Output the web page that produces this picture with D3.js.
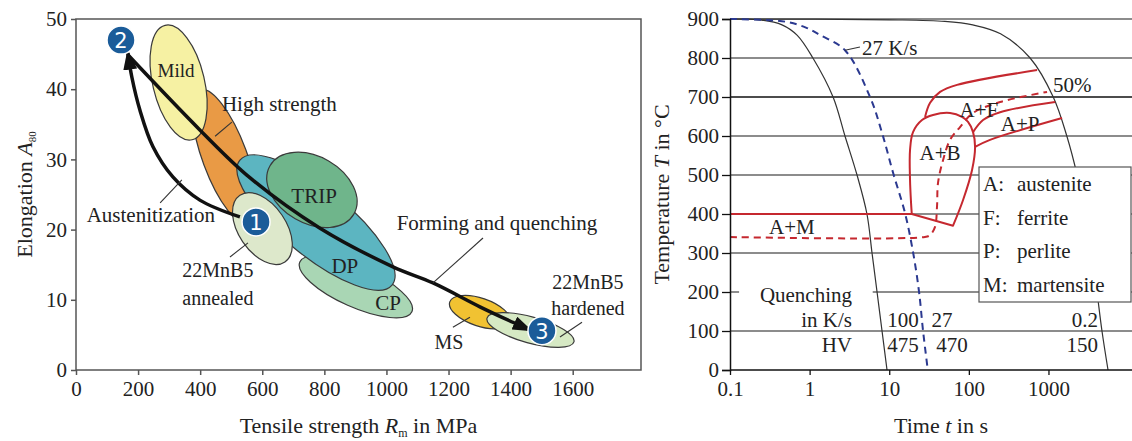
<!DOCTYPE html>
<html>
<head>
<meta charset="utf-8">
<script src="https://cdn.jsdelivr.net/npm/d3@7"></script>
<style>
body { margin: 0; background: #fff; }
svg { font-family: "Liberation Serif", "Times New Roman", serif; }
</style>
</head>
<body>
<svg id="chart" width="1132" height="441"></svg>
<script>
// ---------- left panel: elongation vs tensile strength ----------
var strengthTicks = [0, 200, 400, 600, 800, 1000, 1200, 1400, 1600];
var elongTicks = [0, 10, 20, 30, 40, 50];

// steel grade regions: major axis end points [MPa, %] and minor/major ratio
var regionNames = ["High strength", "Mild", "CP", "DP", "TRIP", "22MnB5 annealed", "MS", "22MnB5 hardened"];
var regionStart = [[399, 39.9], [287, 49.1], [721, 15.4], [528, 29.9], [625, 29.1], [528, 24.9], [1204, 9.7], [1324, 7.4]];
var regionEnd = [[560, 20.7], [374, 32.8], [1082, 8.3], [1018, 12.1], [895, 22.2], [673, 15.4], [1398, 6.8], [1604, 4.0]];
var regionRatio = [0.31, 0.44, 0.33, 0.34, 0.69, 0.59, 0.44, 0.29];
var regionColors = ["#e99a45", "#f6f1a3", "#a9d6b4", "#5cb5c1", "#6fb58b", "#dde8cb", "#f1c232", "#d6e9c4"];

// process route points
var stepNames = ["1", "2", "3"];
var stepPoints = [[580, 21.1], [145, 47.0], [1501, 5.6]];
var austenitization = [[528, 21.8], [399, 24.2], [312, 27.5], [248, 31.8], [206, 37.0], [180, 41.7], [167, 45.2]];
var forming = [[167, 44.9], [399, 34.2], [560, 27.4], [786, 20.2], [1021, 14.7], [1150, 12.4], [1301, 9.0], [1407, 6.8], [1462, 5.7]];

// ---------- right panel: CCT diagram ----------
var timeTicks = [0.1, 1, 10, 100, 1000];
var tempTicks = [0, 100, 200, 300, 400, 500, 600, 700, 800, 900];
var cool100 = [[0.1, 900], [0.25, 897], [0.45, 885], [0.7, 858], [1.1, 800], [1.97, 700], [2.78, 600], [3.94, 500], [5.25, 400], [6.08, 300], [7.03, 200], [8.12, 100], [9.38, 0]];
var cool27 = [[0.1, 900], [0.5, 893], [0.9, 878], [1.35, 859], [2.78, 820], [5.74, 700], [8.12, 608], [11.2, 505], [15.8, 402], [20.0, 300], [23.7, 200], [26.6, 100], [30.5, 0]];
var cool02 = [[0.1, 900], [10, 898], [50, 894], [112, 885], [250, 862], [588, 800], [1148, 700], [1700, 600], [2290, 500], [2880, 400], [3500, 300], [4070, 200], [4700, 100], [5600, 0]];
var msLine = [[0.1, 400], [19.2, 400]];
var bainite = [[63.3, 370], [84.6, 436], [109.7, 513], [119.7, 572], [112.9, 610], [97.7, 636], [82.1, 649], [58.1, 659], [35.5, 654], [25.8, 641], [19.9, 610], [18.25, 564], [18.25, 487], [18.8, 428], [19.2, 400]];
var ferriteStart = [[28.2, 649], [32.6, 685], [43.5, 713], [71.1, 731], [719, 769]];
var perliteStart = [[112.9, 610], [150.8, 641], [246.6, 661], [1211, 687]];
var perliteEnd = [[119.7, 572], [184.5, 590], [1483, 646]];
var half = [[0.1, 341], [28, 341], [32.6, 346], [37.6, 367], [39.8, 418], [41, 480], [47.4, 538], [58.1, 590], [77.5, 623], [112.9, 659], [246.6, 687], [960, 713]];
var rateLabels = ["100", "27", "0.2"];
var hvLabels = ["475", "470", "150"];
var legendKeys = ["A:", "F:", "P:", "M:"];
var legendNames = ["austenite", "ferrite", "perlite", "martensite"];

var svg = d3.select("#chart");
var ink = "#222";

// ================= left panel =================
var xL = d3.scaleLinear().domain([0, 1820]).range([76, 641]);
var yL = d3.scaleLinear().domain([0, 50]).range([370, 19]);

svg.append("rect")
	.attr("x", xL(0)).attr("y", yL(50))
	.attr("width", xL(1820) - xL(0)).attr("height", yL(0) - yL(50))
	.attr("fill", "none").attr("stroke", "#555").attr("stroke-width", 1.5);

var gxL = svg.append("g")
	.attr("transform", "translate(0," + yL(0) + ")")
	.call(d3.axisBottom(xL).tickValues(strengthTicks).tickSize(5).tickPadding(6).tickFormat(d3.format("d")));
var gyL = svg.append("g")
	.attr("transform", "translate(" + xL(0) + ",0)")
	.call(d3.axisLeft(yL).tickValues(elongTicks).tickSize(5).tickPadding(4));
[gxL, gyL].forEach(function(g) {
	g.select(".domain").remove();
	g.selectAll("line").attr("stroke", "#555").attr("stroke-width", 1.5);
	g.selectAll("text").attr("font-family", "Liberation Serif").attr("font-size", 21).attr("fill", ink);
});

// regions
regionNames.forEach(function(name, i) {
	var x1 = xL(regionStart[i][0]), y1 = yL(regionStart[i][1]);
	var x2 = xL(regionEnd[i][0]), y2 = yL(regionEnd[i][1]);
	var rx = Math.hypot(x2 - x1, y2 - y1) / 2;
	var ang = Math.atan2(y2 - y1, x2 - x1) * 180 / Math.PI;
	svg.append("ellipse")
		.attr("transform", "translate(" + (x1 + x2) / 2 + "," + (y1 + y2) / 2 + ") rotate(" + ang + ")")
		.attr("rx", rx).attr("ry", rx * regionRatio[i])
		.attr("fill", regionColors[i]).attr("stroke", "#3a3a3a").attr("stroke-width", 1.2);
});

// arrow heads
var defs = svg.append("defs");
defs.append("marker")
	.attr("id", "head")
	.attr("viewBox", "0 0 20 14")
	.attr("refX", 17).attr("refY", 7)
	.attr("markerWidth", 20).attr("markerHeight", 14)
	.attr("markerUnits", "userSpaceOnUse")
	.attr("orient", "auto")
	.append("path").attr("d", "M0,0 L20,7 L0,14 Z").attr("fill", "#111");

var routeLine = d3.line()
	.x(function(d) { return xL(d[0]); })
	.y(function(d) { return yL(d[1]); })
	.curve(d3.curveCatmullRom);

[austenitization, forming].forEach(function(pts) {
	svg.append("path")
		.attr("d", routeLine(pts))
		.attr("fill", "none").attr("stroke", "#111").attr("stroke-width", 3.5)
		.attr("marker-end", "url(#head)");
});

// leader lines (data coordinates)
var leftLeaders = [
	[[502, 35.3], [448, 33.3]],
	[[271, 23.8], [341, 27.1]],
	[[496, 16.1], [554, 18.1]],
	[[1311, 18.8], [1150, 12.4]],
	[[1214, 6.1], [1269, 7.5]],
	[[1630, 6.8], [1559, 4.7]]
];
leftLeaders.forEach(function(l) {
	svg.append("line")
		.attr("x1", xL(l[0][0])).attr("y1", yL(l[0][1]))
		.attr("x2", xL(l[1][0])).attr("y2", yL(l[1][1]))
		.attr("stroke", "#333").attr("stroke-width", 1.1);
});

// labels
var leftLabels = [
	["Mild", 322, 42.7, "middle", 19],
	["High strength", 470, 37.9, "start", 21],
	["Austenitization", 241, 22.1, "middle", 21],
	["TRIP", 767, 24.8, "middle", 21],
	["DP", 866, 14.8, "middle", 21],
	["CP", 1005, 9.5, "middle", 21],
	["MS", 1201, 4.0, "middle", 20],
	["22MnB5", 457, 14.2, "middle", 20],
	["annealed", 457, 10.3, "middle", 20],
	["Forming and quenching", 1356, 20.9, "middle", 21],
	["22MnB5", 1649, 12.5, "middle", 20],
	["hardened", 1649, 8.8, "middle", 20]
];
leftLabels.forEach(function(l) {
	svg.append("text")
		.attr("x", xL(l[1])).attr("y", yL(l[2]))
		.attr("text-anchor", l[3]).attr("dominant-baseline", "central")
		.attr("font-size", l[4]).attr("fill", ink)
		.text(l[0]);
});

// numbered steps
stepNames.forEach(function(n, i) {
	var cx = xL(stepPoints[i][0]), cy = yL(stepPoints[i][1]);
	svg.append("circle").attr("cx", cx).attr("cy", cy).attr("r", 14)
		.attr("fill", "#1b5c99").attr("stroke", "#fff").attr("stroke-width", 1.5);
	svg.append("text").attr("x", cx).attr("y", cy + 1)
		.attr("text-anchor", "middle").attr("dominant-baseline", "central")
		.attr("font-family", "DejaVu Sans").attr("font-size", 21).attr("fill", "#fff")
		.text(n);
});

// axis titles
var tx = svg.append("text")
	.attr("x", (xL(0) + xL(1820)) / 2).attr("y", 433)
	.attr("text-anchor", "middle").attr("font-size", 22).attr("fill", ink);
tx.append("tspan").text("Tensile strength ");
tx.append("tspan").attr("font-style", "italic").text("R");
tx.append("tspan").attr("font-size", 12).attr("dy", 4).text("m");
tx.append("tspan").attr("dy", -4).text(" in MPa");

var ty = svg.append("text")
	.attr("transform", "translate(32," + (yL(0) + yL(50)) / 2 + ") rotate(-90)")
	.attr("text-anchor", "middle").attr("font-size", 22).attr("fill", ink);
ty.append("tspan").text("Elongation ");
ty.append("tspan").attr("font-style", "italic").text("A");
ty.append("tspan").attr("font-size", 11).attr("dy", 4).text("80");

// ================= right panel =================
var xR = d3.scaleLog().domain([0.1, 11200]).range([730, 1132]);
var yR = d3.scaleLinear().domain([0, 900]).range([370, 19]);

// grid
svg.append("g").selectAll("line")
	.data(tempTicks.slice(1))
	.join("line")
	.attr("x1", xR(0.1)).attr("x2", xR.range()[1])
	.attr("y1", function(d) { return yR(d); }).attr("y2", function(d) { return yR(d); })
	.attr("stroke", function(d) { return d === 700 ? "#111" : "#666"; })
	.attr("stroke-width", 1.3);

// gap in the grid behind the "Quenching" label
svg.append("rect")
	.attr("x", xR(0.13)).attr("y", yR(200) - 8)
	.attr("width", xR(6.2) - xR(0.13)).attr("height", 16)
	.attr("fill", "#fff");

var cct = d3.line()
	.x(function(d) { return xR(d[0]); })
	.y(function(d) { return yR(d[1]); })
	.curve(d3.curveCatmullRom);

[cool100, cool02].forEach(function(c) {
	svg.append("path").attr("d", cct(c))
		.attr("fill", "none").attr("stroke", "#333").attr("stroke-width", 1.2);
});
svg.append("path").attr("d", cct(cool27))
	.attr("fill", "none").attr("stroke", "#2b3990").attr("stroke-width", 2)
	.attr("stroke-dasharray", "7,5");

var red = "#c5282f";
svg.append("path").attr("d", cct(msLine))
	.attr("fill", "none").attr("stroke", red).attr("stroke-width", 2);
svg.append("path").attr("d", cct(bainite) + "Z")
	.attr("fill", "none").attr("stroke", red).attr("stroke-width", 2).attr("stroke-linejoin", "round");
[ferriteStart, perliteStart, perliteEnd].forEach(function(c) {
	svg.append("path").attr("d", cct(c))
		.attr("fill", "none").attr("stroke", red).attr("stroke-width", 2);
});
svg.append("path").attr("d", cct(half))
	.attr("fill", "none").attr("stroke", red).attr("stroke-width", 2)
	.attr("stroke-dasharray", "7,5");

// axes
var gxR = svg.append("g")
	.attr("transform", "translate(0," + yR(0) + ")")
	.call(d3.axisBottom(xR).tickValues(timeTicks).tickSize(5).tickPadding(6)
		.tickFormat(function(d) { return d < 1 ? "0.1" : d3.format("d")(d); }));
var gyR = svg.append("g")
	.attr("transform", "translate(" + xR(0.1) + ",0)")
	.call(d3.axisLeft(yR).tickValues(tempTicks).tickSize(8).tickPadding(3));
[gxR, gyR].forEach(function(g) {
	g.select(".domain").attr("stroke", "#111").attr("stroke-width", 1.5);
	g.selectAll("line").attr("stroke", "#111").attr("stroke-width", 1.3);
	g.selectAll("text").attr("font-family", "Liberation Serif").attr("font-size", 21).attr("fill", ink);
});
gxR.select(".domain").attr("d", "M730,0H1132");

// legend
var lg = svg.append("g");
lg.append("rect").attr("x", 979).attr("y", 167).attr("width", 152).attr("height", 135)
	.attr("fill", "#fff").attr("stroke", "#555").attr("stroke-width", 1.2);
legendKeys.forEach(function(k, i) {
	var y = 184 + i * 33.5;
	lg.append("text").attr("x", 983).attr("y", y).attr("dominant-baseline", "central")
		.attr("font-size", 21).attr("fill", ink).text(k);
	lg.append("text").attr("x", 1017).attr("y", y).attr("dominant-baseline", "central")
		.attr("font-size", 21).attr("fill", ink).text(legendNames[i]);
});

// labels in data coordinates [text, t, T, anchor]
var rightLabels = [
	["27 K/s", 4.55, 826, "start"],
	["50%", 1143, 731, "start"],
	["A+F", 134, 667, "middle"],
	["A+P", 440, 631, "middle"],
	["A+B", 43.5, 556, "middle"],
	["A+M", 0.6, 367, "middle"],
	["Quenching", 3.41, 192, "end"],
	["in K/s", 3.41, 128, "end"],
	["HV", 3.41, 64, "end"]
];
rightLabels.forEach(function(l) {
	svg.append("text")
		.attr("x", xR(l[1])).attr("y", yR(l[2]))
		.attr("text-anchor", l[3]).attr("dominant-baseline", "central")
		.attr("font-size", 21).attr("fill", ink)
		.text(l[0]);
});
svg.append("line")
	.attr("x1", xR(2.78)).attr("y1", yR(820))
	.attr("x2", xR(4.29)).attr("y2", yR(828))
	.attr("stroke", "#333").attr("stroke-width", 1.1);

// quenching rates and hardness
var colPos = [[14.9, "middle"], [46, "middle"], [4200, "end"]];
var hvPos = [[14.9, "middle"], [61.5, "middle"], [4200, "end"]];
rateLabels.forEach(function(r, i) {
	svg.append("text").attr("x", xR(colPos[i][0])).attr("y", yR(128))
		.attr("text-anchor", colPos[i][1]).attr("dominant-baseline", "central")
		.attr("font-size", 21).attr("fill", ink).text(r);
	svg.append("text").attr("x", xR(hvPos[i][0])).attr("y", yR(64))
		.attr("text-anchor", hvPos[i][1]).attr("dominant-baseline", "central")
		.attr("font-size", 21).attr("fill", ink).text(hvLabels[i]);
});

// axis titles
var txR = svg.append("text")
	.attr("x", 941).attr("y", 433)
	.attr("text-anchor", "middle").attr("font-size", 22).attr("fill", ink);
txR.append("tspan").text("Time ");
txR.append("tspan").attr("font-style", "italic").text("t");
txR.append("tspan").text(" in s");

var tyR = svg.append("text")
	.attr("transform", "translate(669," + (yR(0) + yR(900)) / 2 + ") rotate(-90)")
	.attr("text-anchor", "middle").attr("font-size", 22).attr("fill", ink);
tyR.append("tspan").text("Temperature ");
tyR.append("tspan").attr("font-style", "italic").text("T");
tyR.append("tspan").text(" in °C");
</script>
</body>
</html>
